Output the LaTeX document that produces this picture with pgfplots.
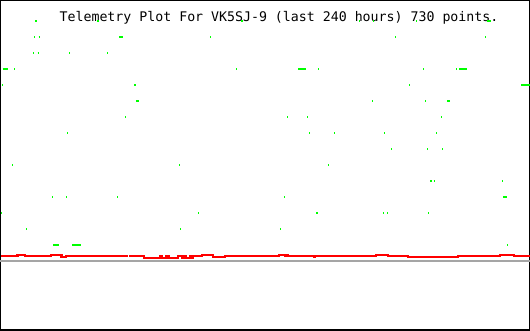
\documentclass[border=0pt]{standalone}
\usepackage{pgfplots}
\pgfplotsset{compat=1.18}
\usepackage{fontspec}
\newfontfamily\monofont{DejaVu Sans Mono}
\definecolor{tgreen}{RGB}{0,255,0}
\definecolor{tred}{RGB}{255,0,0}
\definecolor{tgray}{RGB}{165,165,165}
\begin{document}
\begin{tikzpicture}
\begin{axis}[
  scale only axis, width=530pt, height=330pt,
  xmin=0, xmax=530, ymin=0, ymax=330, y dir=reverse,
  axis line style={black, line width=2.4pt},
  ticks=none, clip=true,
]
% gray reference line
\addplot[tgray, line width=1.8pt, line cap=butt] coordinates {(0,260.8) (530,260.8)};
% red telemetry line
\addplot[tred, line width=2.4pt, const plot, line cap=butt] coordinates {
(1,255.7) (17.5,254.8) (25,255.7) (51,254.8) (61.3,257) (66,255.7) (127.7,255.7)};
\addplot[tred, line width=2.4pt, const plot, line cap=butt] coordinates {
(129,255.7) (144,257.8) (160,255.7) (162,257.8) (165.7,255.7) (166.7,257.8) (167.7,255.7)
(168.7,257.8) (178,255.7) (181.7,257.8) (182.7,255.7) (183.7,257.8) (184.7,255.7)
(185.7,257.8) (189.7,255.7) (190.7,257.8) (192.7,255.7) (202,254.8) (212.7,256.7)
(225,255.7) (279,254.8) (285,255.7) (286,254.8) (287.7,255.7) (314.3,256.7) (315,255.7)
(376,254.8) (388,255.7) (408,256.7) (457.7,255.7) (500,254.8) (514,255.7) (530,255.7)};
% title
\node[anchor=base, font=\monofont\fontsize{13.25}{15}\selectfont, inner sep=0pt]
  at (axis cs:279,21.9) {Telemetry Plot For VK5SJ-9 (last 240 hours) 730 points.};
% green bit rows
\addplot[tgreen, line width=2pt, line cap=butt, unbounded coords=jump] coordinates {
(35,20.7) (37,20.7) (0,nan) (96.5,20.7) (98.5,20.7) (0,nan) (241,20.7) (243,20.7) (0,nan)
(359,20.7) (360,20.7) (0,nan) (373,20.7) (374,20.7) (0,nan) (416,20.7) (417,20.7) (0,nan)
(486.5,20.7) (490.5,20.7) (0,nan)
(34,36.7) (35,36.7) (0,nan) (38.5,36.7) (39.5,36.7) (0,nan) (119.3,36.7) (123.3,36.7) (0,nan)
(210,36.7) (211,36.7) (0,nan) (395,36.7) (396,36.7) (0,nan) (485,36.7) (486,36.7) (0,nan)
(33,52.7) (34,52.7) (0,nan) (37.5,52.7) (38.5,52.7) (0,nan) (69,52.7) (70,52.7) (0,nan)
(107,52.7) (108,52.7) (0,nan)
(2.7,68.7) (8,68.7) (0,nan) (14,68.7) (15,68.7) (0,nan) (236,68.7) (237,68.7) (0,nan)
(298,68.7) (306,68.7) (0,nan) (318,68.7) (319,68.7) (0,nan) (423,68.7) (424,68.7) (0,nan)
(456,68.7) (457,68.7) (0,nan) (459,68.7) (467,68.7) (0,nan)
(2,84.7) (3,84.7) (0,nan) (134,84.7) (136,84.7) (0,nan) (409,84.7) (410,84.7) (0,nan)
(521,84.7) (530,84.7) (0,nan)
(136,100.7) (138.7,100.7) (0,nan) (372,100.7) (373,100.7) (0,nan) (425,100.7) (426,100.7) (0,nan)
(447,100.7) (450,100.7) (0,nan)
(125,116.7) (126,116.7) (0,nan) (287,116.7) (288,116.7) (0,nan) (307,116.7) (308,116.7) (0,nan)
(441,116.7) (442,116.7) (0,nan)
(67,132.7) (68,132.7) (0,nan) (309,132.7) (310,132.7) (0,nan) (334,132.7) (335,132.7) (0,nan)
(384,132.7) (385,132.7) (0,nan) (436,132.7) (437,132.7) (0,nan)
(391,148.7) (392,148.7) (0,nan) (427,148.7) (428,148.7) (0,nan) (442,148.7) (443,148.7) (0,nan)
(12,164.7) (13,164.7) (0,nan) (179,164.7) (180,164.7) (0,nan) (328,164.7) (329,164.7) (0,nan)
(430,180.7) (432,180.7) (0,nan) (434,180.7) (435,180.7) (0,nan) (502,180.7) (503,180.7) (0,nan)
(52,196.7) (53,196.7) (0,nan) (66,196.7) (67,196.7) (0,nan) (117,196.7) (118,196.7) (0,nan)
(284,196.7) (285,196.7) (0,nan) (503,196.7) (507,196.7) (0,nan)
(1,212.7) (2,212.7) (0,nan) (198,212.7) (199,212.7) (0,nan) (316,212.7) (318,212.7) (0,nan)
(383,212.7) (384,212.7) (0,nan) (387,212.7) (388,212.7) (0,nan) (428,212.7) (429,212.7) (0,nan)
(26,228.7) (27,228.7) (0,nan) (180,228.7) (181,228.7) (0,nan) (280,228.7) (281,228.7) (0,nan)
(53.3,244.7) (59,244.7) (0,nan) (72.3,244.7) (81,244.7) (0,nan) (507,244.7) (508,244.7)
};
\end{axis}
\pgfresetboundingbox
\useasboundingbox (0,0) rectangle (530pt,330pt);
\end{tikzpicture}
\end{document}
